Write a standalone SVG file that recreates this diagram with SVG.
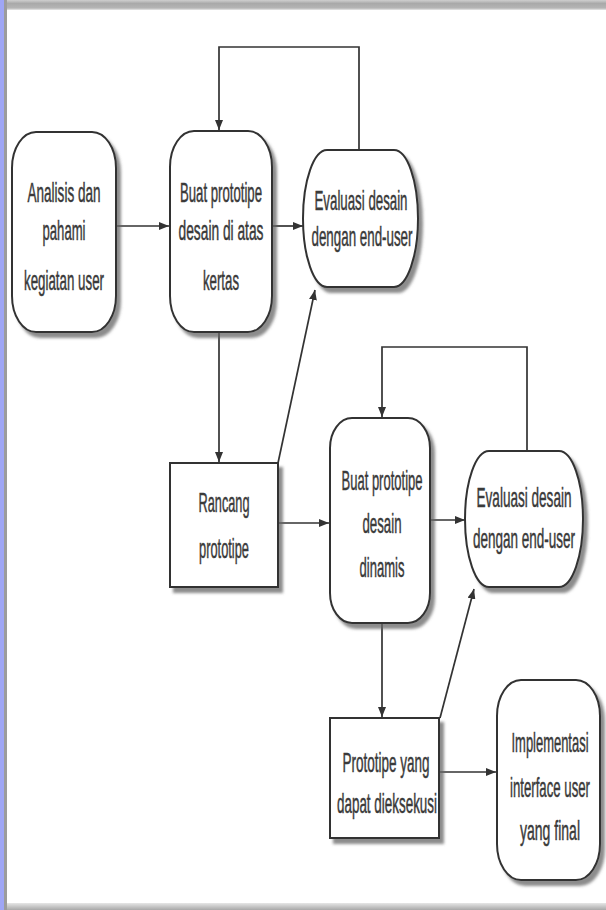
<svg xmlns="http://www.w3.org/2000/svg" width="606" height="910" viewBox="0 0 606 910">
<defs>
<style>
.shape{fill:#fff;stroke:#333;stroke-width:2;filter:url(#sh)}
.t{font-family:"Liberation Sans",Arial,sans-serif;font-size:27px;fill:#3a3a3a;stroke:#3a3a3a;stroke-width:0.5;text-anchor:middle}
.c{fill:none;stroke:#333;stroke-width:1.7;marker-end:url(#ah)}
</style>
<marker id="ah" markerUnits="userSpaceOnUse" markerWidth="10" markerHeight="8" refX="10" refY="4" orient="auto">
<path d="M0,0 L10,4 L0,8 z" fill="#333"/>
</marker>
<filter id="sh" x="-10%" y="-10%" width="130%" height="130%">
<feDropShadow dx="4" dy="5" stdDeviation="1.5" flood-color="#666" flood-opacity="0.75"/>
</filter>
<linearGradient id="topg" x1="0" y1="0" x2="0" y2="1">
<stop offset="0" stop-color="#cfcfcf"/>
<stop offset="0.35" stop-color="#a9a9a9"/>
<stop offset="0.8" stop-color="#b4b4b4"/>
<stop offset="1" stop-color="#e8e8e8"/>
</linearGradient>
<linearGradient id="botg" x1="0" y1="0" x2="0" y2="1">
<stop offset="0" stop-color="#e6e6e6"/>
<stop offset="1" stop-color="#a8a8a8"/>
</linearGradient>
</defs>
<rect x="0" y="0" width="606" height="910" fill="#fff"/>
<rect x="0" y="0" width="606" height="10" fill="url(#topg)"/>
<rect x="0" y="903" width="606" height="7" fill="url(#botg)"/>
<rect x="0" y="0" width="4" height="910" fill="#9fa6f5"/>
<rect x="4" y="0" width="3" height="910" fill="#9c9c9c"/>

<g id="connectors">
<line class="c" x1="117" y1="226" x2="169" y2="226"/>
<line class="c" x1="273" y1="226" x2="303" y2="226"/>
<polyline class="c" points="359,150 359,47 219,47 219,130"/>
<line class="c" x1="219" y1="333" x2="219" y2="462"/>
<line class="c" x1="278" y1="463" x2="315" y2="290"/>
<line class="c" x1="279" y1="523" x2="329" y2="523"/>
<line class="c" x1="431" y1="520" x2="465" y2="520"/>
<polyline class="c" points="527,451 527,347 382,347 382,417"/>
<line class="c" x1="382" y1="624" x2="382" y2="717"/>
<line class="c" x1="440" y1="718" x2="474" y2="589"/>
<line class="c" x1="440" y1="772" x2="496" y2="772"/>
</g>

<g id="n1">
<rect class="shape" x="12" y="132" width="104" height="200" rx="24" ry="36"/>
<text class="t" transform="translate(64,202) scale(0.55,1)" textLength="132.7" lengthAdjust="spacingAndGlyphs">Analisis dan</text>
<text class="t" transform="translate(64,240) scale(0.55,1)" textLength="78.2" lengthAdjust="spacingAndGlyphs">pahami</text>
<text class="t" transform="translate(64,290) scale(0.55,1)" textLength="145.5" lengthAdjust="spacingAndGlyphs">kegiatan user</text>
</g>
<g id="n2">
<rect class="shape" x="170" y="131" width="102" height="201" rx="24" ry="36"/>
<text class="t" transform="translate(221,202) scale(0.55,1)" textLength="149.1" lengthAdjust="spacingAndGlyphs">Buat prototipe</text>
<text class="t" transform="translate(221,240) scale(0.55,1)" textLength="154.5" lengthAdjust="spacingAndGlyphs">desain di atas</text>
<text class="t" transform="translate(221,290) scale(0.55,1)" textLength="65.5" lengthAdjust="spacingAndGlyphs">kertas</text>
</g>
<g id="n3">
<rect class="shape" x="303" y="150" width="115" height="137" rx="24" ry="68.5"/>
<text class="t" transform="translate(361,210) scale(0.55,1)" textLength="169.1" lengthAdjust="spacingAndGlyphs">Evaluasi desain</text>
<text class="t" transform="translate(362,246) scale(0.55,1)" textLength="183.6" lengthAdjust="spacingAndGlyphs">dengan end-user</text>
</g>
<g id="n4">
<rect class="shape" x="170" y="463" width="108" height="124"/>
<text class="t" transform="translate(224,512) scale(0.55,1)" textLength="92.7" lengthAdjust="spacingAndGlyphs">Rancang</text>
<text class="t" transform="translate(224,558) scale(0.55,1)" textLength="90.9" lengthAdjust="spacingAndGlyphs">prototipe</text>
</g>
<g id="n5">
<rect class="shape" x="330" y="418" width="100" height="205" rx="22" ry="30"/>
<text class="t" transform="translate(382,490) scale(0.55,1)" textLength="147.3" lengthAdjust="spacingAndGlyphs">Buat prototipe</text>
<text class="t" transform="translate(382,533) scale(0.55,1)" textLength="70.9" lengthAdjust="spacingAndGlyphs">desain</text>
<text class="t" transform="translate(382,577) scale(0.55,1)" textLength="81.8" lengthAdjust="spacingAndGlyphs">dinamis</text>
</g>
<g id="n6">
<rect class="shape" x="465" y="451" width="118" height="136" rx="24" ry="68"/>
<text class="t" transform="translate(524,507) scale(0.55,1)" textLength="172.7" lengthAdjust="spacingAndGlyphs">Evaluasi desain</text>
<text class="t" transform="translate(524,548) scale(0.55,1)" textLength="185.5" lengthAdjust="spacingAndGlyphs">dengan end-user</text>
</g>
<g id="n7">
<rect class="shape" x="330" y="718" width="109" height="120"/>
<text class="t" transform="translate(386,772) scale(0.55,1)" textLength="158.2" lengthAdjust="spacingAndGlyphs">Prototipe yang</text>
<text class="t" transform="translate(387,813) scale(0.55,1)" textLength="181.8" lengthAdjust="spacingAndGlyphs">dapat dieksekusi</text>
</g>
<g id="n8">
<rect class="shape" x="497" y="680" width="103" height="200" rx="24" ry="36"/>
<text class="t" transform="translate(550,752) scale(0.55,1)" textLength="140" lengthAdjust="spacingAndGlyphs">Implementasi</text>
<text class="t" transform="translate(550,797) scale(0.55,1)" textLength="145.5" lengthAdjust="spacingAndGlyphs">interface user</text>
<text class="t" transform="translate(550,840) scale(0.55,1)" textLength="109.1" lengthAdjust="spacingAndGlyphs">yang final</text>
</g>
</svg>
